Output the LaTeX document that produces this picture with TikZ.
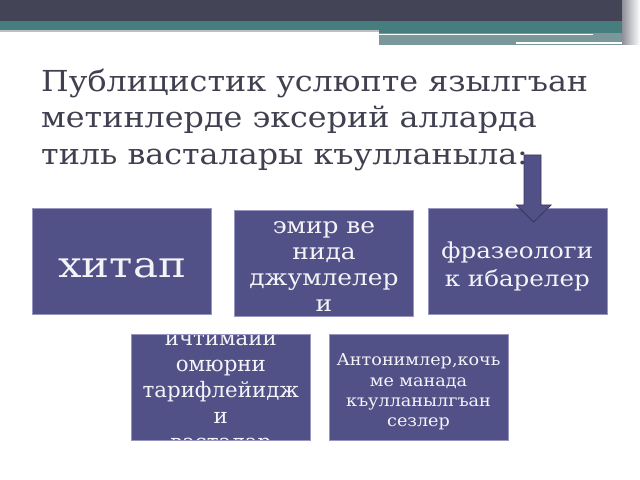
\documentclass[tikz,border=0pt]{standalone}
\usepackage{fontspec}
\setmainfont{DejaVu Serif}
\newcommand{\sfnt}[3]{\fontsize{#1}{#2}\selectfont\addfontfeatures{FakeStretch=#3}}
\definecolor{boxfill}{RGB}{81,81,135}
\definecolor{boxedge}{RGB}{150,150,192}
\definecolor{titlecol}{RGB}{64,64,80}
\definecolor{darkband}{RGB}{67,68,86}
\definecolor{tealband}{RGB}{70,126,128}
\definecolor{grayteal}{RGB}{122,152,154}
\definecolor{arrowedge}{RGB}{55,55,95}
\definecolor{cardtextcol}{RGB}{244,244,248}
\begin{document}
\begin{tikzpicture}[x=1bp,y=-1bp,
  card/.style={draw=boxedge, line width=0.6bp, fill=boxfill, inner sep=0pt,
    minimum width=179bp, minimum height=106bp},
  cardtext/.style={text=cardtextcol, align=center, inner sep=0pt}]
\useasboundingbox (0,0) rectangle (640,480);
\fill[white] (0,0) rectangle (640,480);
% top decorative bands
\fill[darkband] (0,0) rectangle (640,21);
\fill[tealband] (0,21) rectangle (640,30);
\fill[black!25] (0,30) rectangle (379,32);
\fill[grayteal] (379,30) rectangle (628,45);
\fill[tealband] (379,30) rectangle (628,33.5);
\draw[white, line width=1.5bp] (379,34.5) -- (593,34.5);
\draw[white, line width=1.5bp] (516,43) -- (628,43);
\shade[left color=darkband!60!white, right color=white] (622,0) rectangle (640,45);
% title
\node[anchor=north west, inner sep=0pt, text=titlecol, align=left,
  font=\sfnt{29}{37}{1.1}] (title) at (41,68.5)
  {Публицистик услюпте язылгъан\\метинлерде эксерий алларда\\тиль васталары къулланыла:};
% cards
\node[card, path picture={\node[cardtext, font=\sfnt{36}{40}{1.17}]
  at ([yshift=-6.7bp]path picture bounding box.center) {хитап};}] (hitap) at (122.2,261.3) {};
\node[card, path picture={\node[cardtext, font=\sfnt{22.5}{26}{1.11}]
  at ([yshift=-2.5bp]path picture bounding box.center) {эмир ве\\нида\\джумлелер\\и};}] (emir) at (324,263.7) {};
\node[card, path picture={\node[cardtext, font=\sfnt{22}{27.7}{1.12}]
  at ([yshift=-4.8bp]path picture bounding box.center) {фразеологи\\к ибарелер};}] (fraz) at (517.3,261.5) {};
\node[card, path picture={\node[cardtext, font=\sfnt{21.4}{26}{1.0}]
  at ([yshift=-7bp]path picture bounding box.center) {ичтимаии\\омюрни\\тарифлейидж\\и\\васталар};}] (ichtim) at (220.8,387.3) {};
\node[card, path picture={\node[cardtext, font=\sfnt{16.5}{20.3}{1.07}]
  at ([yshift=-4.7bp]path picture bounding box.center) {Антонимлер,кочь\\ме манада\\къулланылгъан\\сезлер};}] (anton) at (418.5,387.3) {};
% block arrow
\filldraw[fill=boxfill, draw=arrowedge, line width=0.8bp]
  (524,155) -- (541,155) -- (541,205) -- (551,205) -- (533.5,222) -- (516.5,205) -- (524,205) -- cycle;
\end{tikzpicture}
\end{document}
